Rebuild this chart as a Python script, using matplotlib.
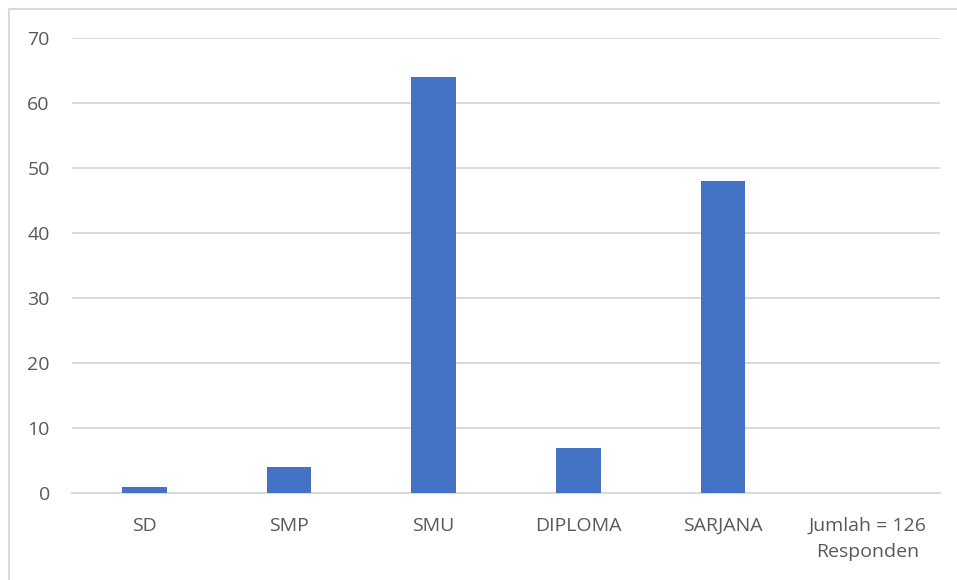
import matplotlib
matplotlib.use("Agg")
import matplotlib.pyplot as plt
from matplotlib.patches import Rectangle

categories = ["SD", "SMP", "SMU", "DIPLOMA", "SARJANA", "Jumlah = 126\nResponden"]
values = [1, 4, 64, 7, 48, 0]
yticks = [0, 10, 20, 30, 40, 50, 60, 70]

plt.rcParams['font.family'] = ['Open Sans', 'DejaVu Sans']
fig = plt.figure(figsize=(9.57, 5.8), dpi=100)
fig.patches.append(Rectangle((9/957, -0.1), 1.2, 1 - 9/580 + 0.1, transform=fig.transFigure,
                             fill=False, edgecolor='#d9d9d9', linewidth=1.5))
ax = fig.add_axes([72/957, 1-493/580, (940-72)/957, (493-38)/580])
x = range(len(categories))
ax.bar(x, values, width=0.31, color='#4472c4', zorder=3)
ax.set_xlim(-0.5, len(categories) - 0.5)
ax.set_ylim(0, 70)
ax.set_yticks(yticks)
ax.set_xticks(list(x))
ax.set_xticklabels(categories, linespacing=1.6)
ax.yaxis.grid(True, color='#d9d9d9', linewidth=1.4, zorder=0)
for s in ['top', 'right', 'left']:
    ax.spines[s].set_visible(False)
ax.spines['bottom'].set_color('#d9d9d9')
ax.spines['bottom'].set_linewidth(1.4)
ax.tick_params(axis='both', length=0, labelsize=14, labelcolor='#595959')
ax.tick_params(axis='y', pad=16)
ax.tick_params(axis='x', pad=17)
fig.savefig("out.png", dpi=100)
